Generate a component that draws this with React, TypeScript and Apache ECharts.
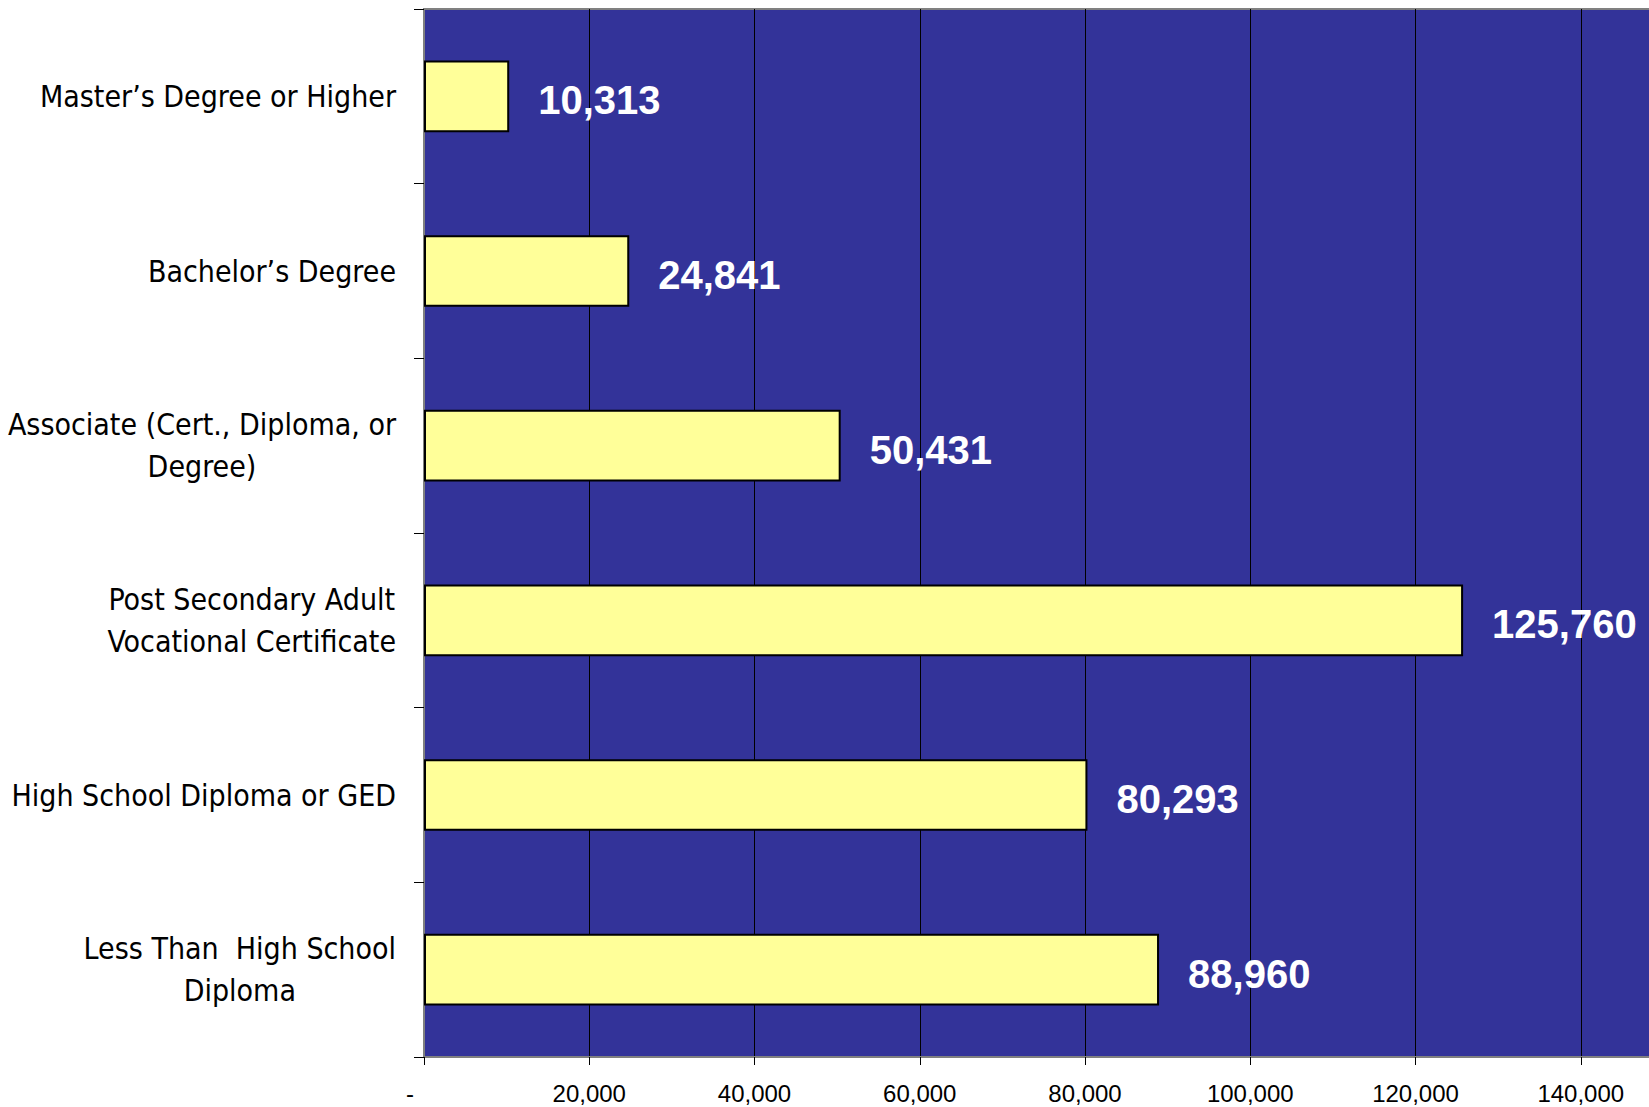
import React, { useEffect, useRef } from "react";
import * as echarts from "echarts";

const categories = [
  "Master\u2019s Degree or Higher",
  "Bachelor\u2019s Degree",
  "Associate (Cert., Diploma, or\nDegree)",
  "Post Secondary Adult\nVocational Certificate",
  "High School Diploma or GED",
  "Less Than  High School\nDiploma",
];
const values = [10313, 24841, 50431, 125760, 80293, 88960];
const xTicks = { min: 0, max: 160000, interval: 20000 };

const labelFont = "'Liberation Sans Narrow', 'Arial Narrow', 'DejaVu Sans Condensed', sans-serif";
const numFont = "'Liberation Sans', Arial, sans-serif";

export default function App() {
  const ref = useRef<HTMLDivElement>(null);
  useEffect(() => {
    if (!ref.current) return;
    const chart = echarts.init(ref.current, null, { renderer: "svg" });
    chart.setOption({
      animation: false,
      backgroundColor: "#ffffff",
      grid: {
        left: 424,
        top: 9,
        bottom: 50,
        right: -97,
        containLabel: false,
        outerBoundsMode: "none",
        show: true,
        backgroundColor: "#333399",
        borderColor: "#808080",
        borderWidth: 2,
      },
      xAxis: {
        type: "value",
        min: xTicks.min,
        max: xTicks.max,
        interval: xTicks.interval,
        axisLine: { show: true, lineStyle: { color: "#808080", width: 2 } },
        axisTick: { show: true, length: 8, lineStyle: { color: "#000000", width: 1 } },
        splitLine: { show: true, lineStyle: { color: "#000000", width: 1 } },
        axisLabel: {
          margin: 24,
          showMaxLabel: false,
          fontFamily: numFont,
          fontSize: 24,
          color: "#000000",
          formatter: (v: number) =>
            v === 0 ? "{d|-}" : v.toLocaleString("en-US"),
          rich: {
            d: {
              fontFamily: numFont,
              fontSize: 24,
              color: "#000000",
              padding: [0, 28, 0, 0],
            },
          },
        },
      },
      yAxis: {
        type: "category",
        data: categories,
        inverse: true,
        axisLine: { show: true, lineStyle: { color: "#808080", width: 2 } },
        axisTick: { show: true, length: 10, lineStyle: { color: "#000000", width: 1 } },
        splitLine: { show: false },
        axisLabel: {
          margin: 28,
          formatter: (v: string) =>
            v
              .split("\n")
              .map((l) => `{c|${l}}`)
              .join("\n"),
          rich: {
            c: {
              align: "center",
              fontFamily: labelFont,
              fontSize: 30,
              lineHeight: 42,
              color: "#000000",
            },
          },
        },
      },
      series: [
        {
          type: "bar",
          data: values,
          barWidth: "41%",
          itemStyle: {
            color: "#FFFF99",
            borderColor: "#000000",
            borderWidth: 2,
          },
          label: {
            show: true,
            position: "right",
            distance: 29,
            offset: [0, 4],
            color: "#ffffff",
            fontFamily: numFont,
            fontWeight: "bold",
            fontSize: 40,
            formatter: (p: any) => Number(p.value).toLocaleString("en-US"),
          },
        },
      ],
    });
    return () => chart.dispose();
  }, []);
  return (
    <div
      ref={ref}
      style={{ position: "absolute", left: 0, top: 0, width: 1649, height: 1107 }}
    />
  );
}
